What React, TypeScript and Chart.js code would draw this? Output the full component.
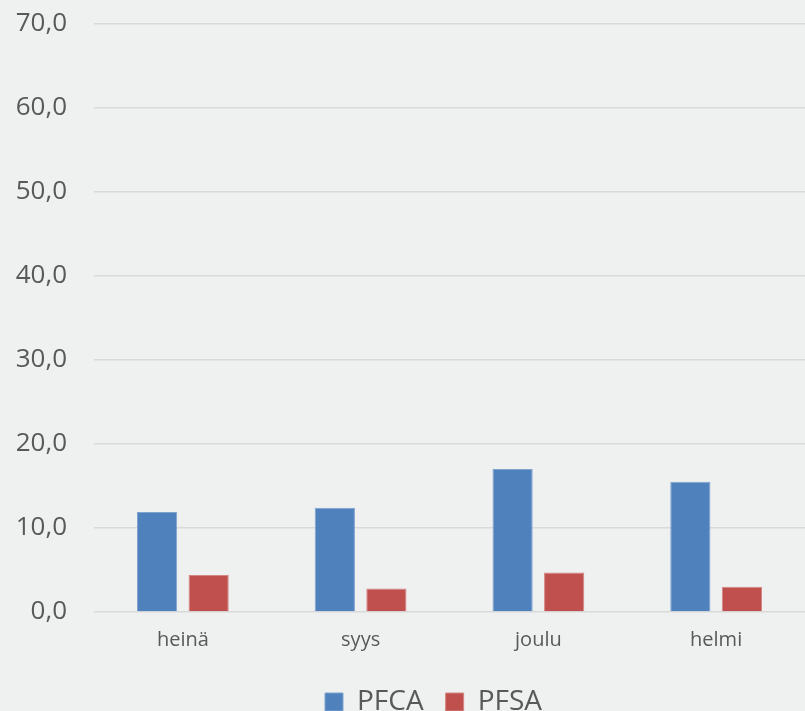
import React, { useEffect, useRef } from "react";
import { Chart, registerables } from "chart.js";

Chart.register(...registerables);

const categories = ["heinä", "syys", "joulu", "helmi"];
const pfca = [11.9, 12.4, 17.0, 15.5];
const pfsa = [4.4, 2.8, 4.7, 3.0];
const seriesNames = ["PFCA", "PFSA"];

const shiftLegend = {
  id: "shiftLegend",
  afterLayout(chart: any) {
    const lg = chart.legend;
    if (!lg) return;
    const dx = 31;
    const dy = -2;
    lg.left += dx;
    lg.right += dx;
    lg.top += dy;
    lg.bottom += dy;
    (lg.legendHitBoxes || []).forEach((h: any) => {
      h.left += dx;
      h.top += dy;
    });
  },
};

export default function App() {
  const ref = useRef<HTMLCanvasElement>(null);
  useEffect(() => {
    const canvas = ref.current!;
    const chart = new Chart(canvas, {
      type: "bar",
      data: {
        labels: categories,
        datasets: [
          {
            label: seriesNames[0],
            data: pfca,
            backgroundColor: "#4f81bd",
            borderColor: "#7fa3cf",
            borderWidth: 1,
            categoryPercentage: 0.58,
            barPercentage: 0.78,
          },
          {
            label: seriesNames[1],
            data: pfsa,
            backgroundColor: "#c0504d",
            borderColor: "#d58583",
            borderWidth: 1,
            categoryPercentage: 0.58,
            barPercentage: 0.78,
          },
        ],
      },
      plugins: [shiftLegend],
      options: {
        animation: false,
        responsive: false,
        maintainAspectRatio: false,
        layout: { padding: { left: 0, right: 0, top: 0, bottom: 0 } },
        plugins: {
          tooltip: { enabled: false },
          legend: {
            position: "bottom",
            labels: {
              color: "#595959",
              font: { family: "'Open Sans'", size: 28 },
              boxWidth: 18,
              boxHeight: 18,
              padding: 22,
              useBorderRadius: false,
            },
          },
        },
        scales: {
          x: {
            grid: { display: false, drawTicks: false },
            border: { display: false },
            ticks: {
              color: "#595959",
              font: { family: "'Open Sans'", size: 20 },
              padding: 16,
            },
          },
          y: {
            min: 0,
            max: 70,
            afterFit: (scale: any) => {
              scale.width = 94;
            },
            grid: { color: "#d9d9d9", lineWidth: 1.5, drawTicks: false },
            border: { display: false },
            ticks: {
              stepSize: 10,
              color: "#595959",
              font: { family: "'Open Sans'", size: 26 },
              padding: 27,
              callback: (v: any) => Number(v).toFixed(1).replace(".", ","),
            },
          },
        },
      },
    });
    return () => chart.destroy();
  }, []);
  return (
    <div
      style={{
        position: "absolute",
        left: 0,
        top: 0,
        width: 805,
        height: 711,
        background: "#eff1f1",
        overflow: "hidden",
      }}
    >
      <canvas
        ref={ref}
        width={805}
        height={747}
        style={{ display: "block", position: "absolute", left: 0, top: -19 }}
      />
    </div>
  );
}
